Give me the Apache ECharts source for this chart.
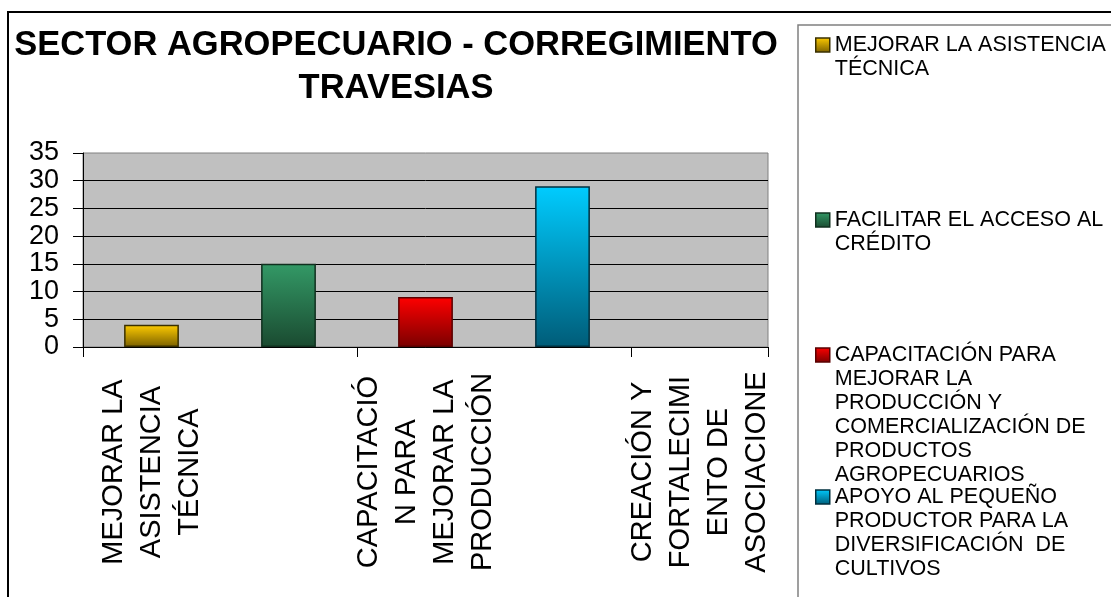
<!DOCTYPE html>
<html>
<head>
<meta charset="utf-8">
<script src="https://cdn.jsdelivr.net/npm/echarts@6/dist/echarts.min.js"></script>
<style>
  html, body { margin: 0; padding: 0; background: #fff; }
  #main { width: 1111px; height: 597px; }
</style>
</head>
<body>
<div id="main"></div>
<script>
var categories = [
    'MEJORAR LA ASISTENCIA TÉCNICA',
    'FACILITAR EL ACCESO AL CRÉDITO',
    'CAPACITACIÓN PARA MEJORAR LA PRODUCCIÓN',
    'APOYO AL PEQUEÑO PRODUCTOR',
    'CREACIÓN Y FORTALECIMIENTO DE ASOCIACIONES'
];
var tickLabels = [
    'MEJORAR LA\nASISTENCIA\nTÉCNICA',
    'FACILITAR\nEL ACCESO\nAL CRÉDITO',
    'CAPACITACIÓ\nN PARA\nMEJORAR LA\nPRODUCCIÓN',
    'APOYO AL\nPEQUEÑO\nPRODUCTOR',
    'CREACIÓN Y\nFORTALECIMI\nENTO DE\nASOCIACIONE'
];
var seriesNames = [
    'MEJORAR LA ASISTENCIA TÉCNICA',
    'FACILITAR EL ACCESO AL CRÉDITO',
    'CAPACITACIÓN PARA MEJORAR LA PRODUCCIÓN Y COMERCIALIZACIÓN DE PRODUCTOS AGROPECUARIOS',
    'APOYO AL PEQUEÑO PRODUCTOR PARA LA DIVERSIFICACIÓN  DE CULTIVOS'
];
var legendLines = [
    ['MEJORAR LA ASISTENCIA', 'TÉCNICA'],
    ['FACILITAR EL ACCESO AL', 'CRÉDITO'],
    ['CAPACITACIÓN PARA', 'MEJORAR LA', 'PRODUCCIÓN Y', 'COMERCIALIZACIÓN DE', 'PRODUCTOS', 'AGROPECUARIOS'],
    ['APOYO AL PEQUEÑO', 'PRODUCTOR PARA LA', 'DIVERSIFICACIÓN  DE', 'CULTIVOS']
];
var values = [4, 15, 9, 29];
var yTicks = [0, 5, 10, 15, 20, 25, 30, 35];

var topColors = ['#FFCC00', '#339966', '#FF0000', '#00CCFF'];
var bottomColors = ['#7A6000', '#1A4A30', '#7A0000', '#005C78'];
var edgeColors = ['#3A3000', '#10301F', '#5A0000', '#00303F'];

var font = '"Liberation Sans", Arial, sans-serif';
var legendLineH = 24;
var legendCenters = [45, 220, 355, 497];

var myChart = echarts.init(document.getElementById('main'));

var series = seriesNames.map(function (name, k) {
    return {
        name: name,
        type: 'bar',
        stack: 'all',
        barWidth: '40%',
        data: categories.map(function (c, i) { return i === k ? values[k] : '-'; }),
        itemStyle: {
            color: new echarts.graphic.LinearGradient(0, 0, 0, 1, [
                { offset: 0, color: topColors[k] },
                { offset: 1, color: bottomColors[k] }
            ]),
            borderColor: edgeColors[k],
            borderWidth: 1.5
        }
    };
});

// one legend per entry so each sits where the original puts it;
// blank lines in front keep the marker beside the first text line
var legends = seriesNames.map(function (name, k) {
    var lines = legendLines[k];
    var pad = [];
    for (var j = 1; j < lines.length; j++) pad.push('');
    var total = lines.length * 2 - 1;
    return {
        data: [name],
        orient: 'vertical',
        left: 815,
        top: legendCenters[k] - total * legendLineH / 2,
        padding: 0,
        itemWidth: 14,
        itemHeight: 14,
        icon: 'rect',
        selectedMode: false,
        itemStyle: { borderColor: edgeColors[k], borderWidth: 1.5 },
        textStyle: { fontFamily: font, fontSize: 21.5, color: '#000', lineHeight: legendLineH },
        formatter: function () { return pad.concat(lines).join('\n'); }
    };
});

option = {
    backgroundColor: '#fff',
    animation: false,
    title: {
        text: 'SECTOR AGROPECUARIO - CORREGIMIENTO\nTRAVESIAS',
        left: 396,
        top: 24,
        padding: 0,
        textAlign: 'center',
        textStyle: {
            fontFamily: font,
            fontSize: 34.5,
            fontWeight: 'bold',
            color: '#000',
            lineHeight: 43
        }
    },
    graphic: [
        {
            type: 'rect',
            shape: { x: 8, y: 12, width: 1200, height: 700 },
            style: { fill: 'none', stroke: '#000', lineWidth: 2 },
            silent: true
        },
        {
            type: 'rect',
            shape: { x: 798, y: 25, width: 400, height: 700 },
            style: { fill: 'none', stroke: '#808080', lineWidth: 1.5 },
            silent: true
        }
    ],
    legend: legends,
    grid: {
        left: 83,
        right: 343,
        top: 153,
        bottom: 250,
        show: true,
        backgroundColor: '#C0C0C0',
        borderColor: '#808080',
        borderWidth: 1
    },
    xAxis: {
        type: 'category',
        data: categories,
        boundaryGap: true,
        axisLine: { lineStyle: { color: '#000', width: 1 } },
        axisTick: { show: true, length: 10, lineStyle: { color: '#000' } },
        axisLabel: {
            interval: 1,
            rotate: 90,
            align: 'center',
            verticalAlign: 'middle',
            margin: 125,
            fontFamily: font,
            fontSize: 29,
            lineHeight: 38,
            color: '#000',
            formatter: function (v, i) { return tickLabels[i]; }
        }
    },
    yAxis: {
        type: 'value',
        min: yTicks[0],
        max: yTicks[yTicks.length - 1],
        interval: 5,
        axisLine: { show: true, lineStyle: { color: '#000', width: 1 } },
        axisTick: { show: true, length: 10, lineStyle: { color: '#000' } },
        axisLabel: {
            margin: 24,
            fontFamily: font,
            fontSize: 27,
            lineHeight: 22,
            color: '#000',
            showMinLabel: true,
            showMaxLabel: true,
            hideOverlap: false
        },
        splitLine: {
            show: true,
            showMaxLine: false,
            lineStyle: { color: '#000', width: 1 }
        }
    },
    series: series
};
myChart.setOption(option);
</script>
</body>
</html>
